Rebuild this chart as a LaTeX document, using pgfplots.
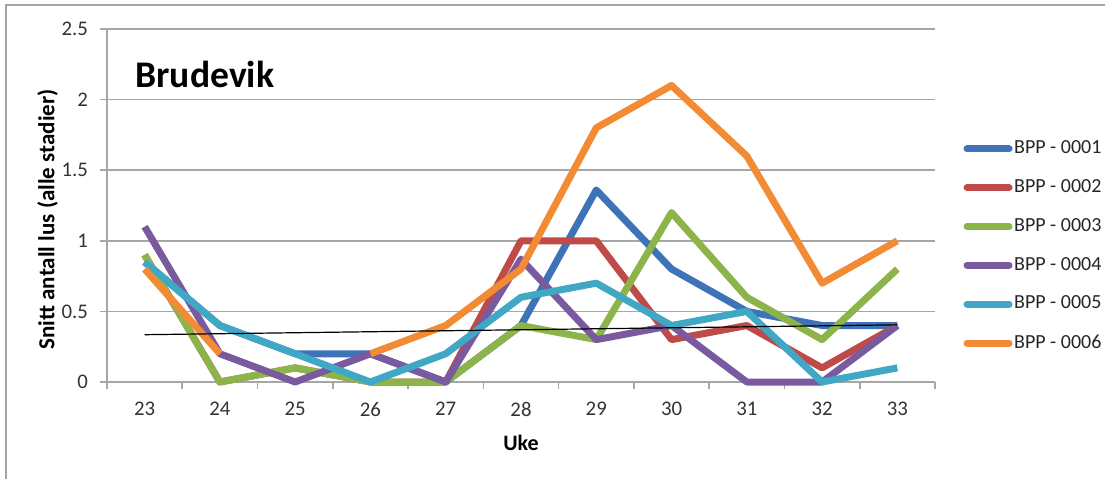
\documentclass[border=0pt]{standalone}
\usepackage{pgfplots}
\pgfplotsset{compat=1.18}
\usepackage{fontspec}
\setmainfont{Carlito}
\definecolor{cblue}{HTML}{3F73B8}
\definecolor{cred}{HTML}{BE4B48}
\definecolor{cgreen}{HTML}{8DB44A}
\definecolor{cpurple}{HTML}{7A5A9E}
\definecolor{ccyan}{HTML}{40A8C4}
\definecolor{corange}{HTML}{F38B35}
\definecolor{cgrid}{HTML}{A6A6A6}
\begin{document}
\begin{tikzpicture}[x=0.5pt,y=0.5pt]
\path[use as bounding box] (0,0) rectangle (1105,479);
\draw[cgrid, line width=1pt] (6,0) -- (6,474) -- (1105,474);
\begin{axis}[
  at={(53.5pt,48.5pt)}, anchor=south west,
  scale only axis, width=414pt, height=176.5pt,
  xmin=-0.5, xmax=10.5, ymin=0, ymax=2.5,
  axis x line=bottom, axis y line=left,
  axis line style={cgrid, line width=0.8pt, -},
  xtick={-0.5,0.5,...,10.5}, xticklabels={},
  extra x ticks={0,1,2,3,4,5,6,7,8,9,10},
  extra x tick labels={23,24,25,26,27,28,29,30,31,32,33},
  extra x tick style={major tick length=0pt},
  ytick={0,0.5,1,1.5,2,2.5},
  yticklabels={0,0.5,1,1.5,2,2.5},
  ymajorgrids,
  grid style={cgrid, line width=0.8pt},
  tick style={cgrid, line width=0.8pt},
  tick align=outside, major tick length=3.5pt,
  ticklabel style={font=\fontsize{10.4}{12}\selectfont, text=black!80},
  xticklabel style={yshift=-6.5pt},
  yticklabel style={xshift=-2.5pt},
  /pgf/number format/assume math mode=true,
  xlabel={\textbf{Uke}},
  ylabel={\textbf{Snitt antall lus (alle stadier)}},
  xlabel style={font=\fontsize{11}{12}\selectfont, yshift=1pt},
  ylabel style={font=\fontsize{11.5}{13}\selectfont, yshift=-5pt, xshift=-7pt},
  unbounded coords=jump,
  legend style={at={(1.034,0.385)}, anchor=west, draw=none, fill=none,
    font=\fontsize{10}{11}\selectfont, text=black!85, row sep=9.8pt, inner sep=0pt,
    nodes={inner sep=0.8pt}},
  legend cell align=left,
  legend image code/.code={\draw[#1, line width=3.5pt, line cap=round] (0pt,0pt) -- (21pt,0pt);},
  every axis plot/.append style={line width=3.5pt, line join=round},
  clip=false,
]
\addplot[cblue] coordinates {(0,0.85) (1,0.4) (2,0.2) (3,0.2) (4,0) (5,0.4) (6,1.36) (7,0.8) (8,0.5) (9,0.4) (10,0.4)};
\addlegendentry{BPP - 0001}
\addplot[cred] coordinates {(0,0.9) (1,0) (2,0.1) (3,0) (4,0) (5,1.0) (6,1.0) (7,0.3) (8,0.4) (9,0.1) (10,0.4)};
\addlegendentry{BPP - 0002}
\addplot[cgreen] coordinates {(0,0.9) (1,0) (2,0.1) (3,0) (4,0) (5,0.4) (6,0.3) (7,1.2) (8,0.6) (9,0.3) (10,0.8)};
\addlegendentry{BPP - 0003}
\addplot[cpurple] coordinates {(0,1.1) (1,0.2) (2,0) (3,0.2) (4,0) (5,0.87) (6,0.3) (7,0.4) (8,0) (9,0) (10,0.4)};
\addlegendentry{BPP - 0004}
\addplot[ccyan] coordinates {(0,0.85) (1,0.4) (2,0.2) (3,0) (4,0.2) (5,0.6) (6,0.7) (7,0.4) (8,0.5) (9,0) (10,0.1)};
\addlegendentry{BPP - 0005}
\addplot[corange] coordinates {(0,0.8) (1,0.2) (2,nan) (3,0.2) (4,0.4) (5,0.8) (6,1.8) (7,2.1) (8,1.6) (9,0.7) (10,1.0)};
\addlegendentry{BPP - 0006}
\addplot[black, line width=0.6pt, forget plot] coordinates {(0,0.335) (10,0.405)};
\node[anchor=west, inner sep=0pt, font=\fontsize{18.8}{20}\selectfont\bfseries] at (rel axis cs:0.034,0.87) {Brudevik};
\end{axis}
\end{tikzpicture}
\end{document}
